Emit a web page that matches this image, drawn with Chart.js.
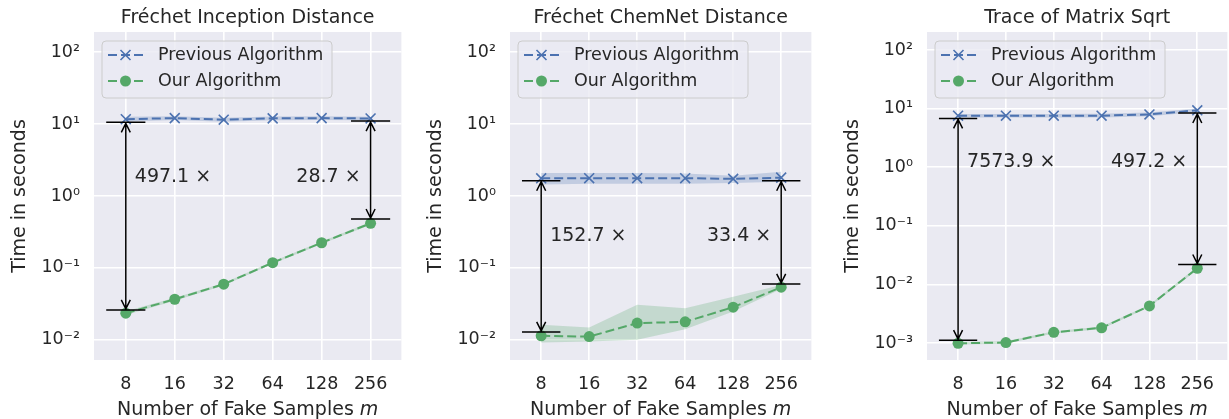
<!DOCTYPE html>
<html>
<head>
<meta charset="utf-8">
<script src="https://cdn.jsdelivr.net/npm/chart.js@4.4.0/dist/chart.umd.min.js"></script>
<style>
html, body { margin: 0; padding: 0; background: #fff; overflow: hidden; width: 1229px; height: 419px; }
.panel { position: absolute; top: 0; height: 419px; }
</style>
</head>
<body>
<div class="panel" style="left:0"><canvas id="c1" width="410" height="419"></canvas></div>
<div class="panel" style="left:410px"><canvas id="c2" width="410" height="419"></canvas></div>
<div class="panel" style="left:820px"><canvas id="c3" width="416" height="419"></canvas></div>
<script>
const samples = [8, 16, 32, 64, 128, 256];

// Fréchet Inception Distance
const fidPrev   = [11.7, 12.1, 11.5, 12.0, 12.1, 11.97];
const fidPrevLo = [10.9, 11.4, 10.8, 11.3, 11.4, 11.3];
const fidPrevHi = [12.6, 12.8, 12.2, 12.7, 12.8, 12.6];
const fidOurs   = [0.0235, 0.0367, 0.0594, 0.1185, 0.224, 0.417];
const fidOursLo = [0.0222, 0.0350, 0.0572, 0.1140, 0.215, 0.400];
const fidOursHi = [0.0249, 0.0385, 0.0617, 0.1230, 0.233, 0.435];

// Fréchet ChemNet Distance
const fcdPrev   = [1.76, 1.77, 1.77, 1.77, 1.73, 1.80];
const fcdPrevLo = [1.44, 1.48, 1.48, 1.48, 1.52, 1.58];
const fcdPrevHi = [2.09, 2.08, 2.08, 2.06, 1.91, 2.17];
const fcdOurs   = [0.0114, 0.0111, 0.0171, 0.0178, 0.0285, 0.054];
const fcdOursLo = [0.0092, 0.0095, 0.0100, 0.0141, 0.0247, 0.051];
const fcdOursHi = [0.0162, 0.0148, 0.0307, 0.0276, 0.0399, 0.058];

// Trace of Matrix Sqrt
const trPrev   = [7.6, 7.6, 7.6, 7.6, 7.99, 9.4];
const trPrevLo = [7.1, 7.1, 7.1, 7.1, 7.4, 8.8];
const trPrevHi = [8.1, 8.1, 8.1, 8.2, 8.6, 10.1];
const trOurs   = [0.00099, 0.00102, 0.00152, 0.00182, 0.0043, 0.0189];
const trOursLo = [0.00094, 0.00097, 0.00145, 0.00173, 0.0041, 0.0178];
const trOursHi = [0.00104, 0.00107, 0.00159, 0.00191, 0.0045, 0.0200];

const yTicksFid = [100, 10, 1, 0.1, 0.01];
const yTicksFcd = [100, 10, 1, 0.1, 0.01];
const yTicksTr  = [100, 10, 1, 0.1, 0.01, 0.001];

const seriesNames = ['Previous Algorithm', 'Our Algorithm'];

const FONT = 'DejaVu Sans';
const INK = '#262626';
const BLUE = '#4C72B0';
const GREEN = '#55A868';

function sup(v) {
    const e = Math.round(Math.log10(v));
    const map = {'0':'⁰','1':'¹','2':'²','3':'³','4':'⁴','-':'⁻'};
    return '10' + String(e).split('').map(c => map[c]).join('');
}

function drawMarker(ctx, style, x, y, color) {
    ctx.save();
    ctx.setLineDash([]);
    if (style === 'crossRot') {
        ctx.strokeStyle = color; ctx.lineWidth = 1.6;
        const d = 5;
        ctx.beginPath();
        ctx.moveTo(x - d, y - d); ctx.lineTo(x + d, y + d);
        ctx.moveTo(x - d, y + d); ctx.lineTo(x + d, y - d);
        ctx.stroke();
    } else {
        ctx.fillStyle = color;
        ctx.beginPath(); ctx.arc(x, y, 5.5, 0, Math.PI * 2); ctx.fill();
    }
    ctx.restore();
}

const decor = {
    id: 'decor',
    beforeDraw(chart) {
        const {ctx, chartArea: a} = chart;
        ctx.save();
        ctx.fillStyle = '#EAEAF2';
        ctx.fillRect(a.left, a.top, a.right - a.left, a.bottom - a.top);
        ctx.restore();
    },
    afterDraw(chart, args, o) {
        const {ctx, chartArea: a} = chart;
        const xs = chart.scales.x, ys = chart.scales.y;
        const cx = (a.left + a.right) / 2;
        ctx.save();
        ctx.fillStyle = INK;
        // title
        ctx.font = '19px "' + FONT + '"';
        ctx.textAlign = 'center'; ctx.textBaseline = 'alphabetic';
        ctx.fillText(o.title, cx, 23);
        // x label with italic m
        const t1 = 'Number of Fake Samples ', t2 = 'm';
        ctx.font = '19px "' + FONT + '"';
        const w1 = ctx.measureText(t1).width;
        ctx.font = 'italic 19px "' + FONT + '"';
        const w2 = ctx.measureText(t2).width;
        const sx = cx - (w1 + w2) / 2;
        ctx.textAlign = 'left';
        ctx.font = '19px "' + FONT + '"';
        ctx.fillText(t1, sx, 415);
        ctx.font = 'italic 19px "' + FONT + '"';
        ctx.fillText(t2, sx + w1, 415);

        // speed-up brackets
        const step = xs.getPixelForValue(16) - xs.getPixelForValue(8);
        const half = 0.4 * step;
        o.brackets.forEach(b => {
            const x = xs.getPixelForValue(b.m);
            const yt = ys.getPixelForValue(b.top), yb = ys.getPixelForValue(b.bottom);
            ctx.strokeStyle = '#000'; ctx.lineWidth = 1.5;
            ctx.beginPath();
            ctx.moveTo(x - half, yt); ctx.lineTo(x + half, yt);
            ctx.moveTo(x - half, yb); ctx.lineTo(x + half, yb);
            ctx.moveTo(x, yt + 1); ctx.lineTo(x, yb - 1);
            ctx.moveTo(x - 4.5, yt + 10); ctx.lineTo(x, yt + 1); ctx.lineTo(x + 4.5, yt + 10);
            ctx.moveTo(x - 4.5, yb - 10); ctx.lineTo(x, yb - 1); ctx.lineTo(x + 4.5, yb - 10);
            ctx.stroke();
            ctx.font = '19px "' + FONT + '"';
            ctx.textBaseline = 'middle';
            ctx.textAlign = b.side === 'right' ? 'left' : 'right';
            ctx.fillText(b.label, x + (b.side === 'right' ? 9 : -10), ys.getPixelForValue(b.textAt));
        });

        // legend
        const lx = a.left + 8, ly = a.top + 9, lw = 230, lh = 57;
        ctx.beginPath();
        ctx.roundRect(lx, ly, lw, lh, 4);
        ctx.fillStyle = 'rgba(234,234,242,0.8)';
        ctx.fill();
        ctx.strokeStyle = '#cccccc'; ctx.lineWidth = 1;
        ctx.stroke();
        const rows = [[BLUE, 'crossRot'], [GREEN, 'circle']];
        rows.forEach((r, i) => {
            const y = ly + 14 + i * 26;
            ctx.strokeStyle = r[0]; ctx.lineWidth = 2;
            ctx.setLineDash([9, 4]);
            ctx.beginPath(); ctx.moveTo(lx + 6, y); ctx.lineTo(lx + 41, y); ctx.stroke();
            ctx.setLineDash([]);
            drawMarker(ctx, r[1], lx + 23.5, y, r[0]);
            ctx.fillStyle = INK;
            ctx.font = '17.5px "' + FONT + '"';
            ctx.textAlign = 'left'; ctx.textBaseline = 'middle';
            ctx.fillText(seriesNames[i], lx + 56, y);
        });
        ctx.restore();
    }
};

function pts(vals) {
    return samples.map((m, i) => ({x: m, y: vals[i]}));
}

function makePanel(id, p) {
    const band = (vals, fillColor, fill) => ({
        data: pts(vals), borderWidth: 0, pointRadius: 0, tension: 0,
        fill: fill, backgroundColor: fillColor, order: 2
    });
    const line = (vals, color, style, order) => ({
        data: pts(vals), borderColor: color, backgroundColor: color, borderWidth: 2,
        borderDash: [9, 4], pointStyle: style, pointRadius: style === 'circle' ? 5.5 : 7,
        pointBorderWidth: style === 'circle' ? 0 : 1.6, pointBackgroundColor: color,
        pointBorderColor: color, tension: 0, fill: false, order: order
    });
    new Chart(document.getElementById(id), {
        type: 'line',
        data: {
            datasets: [
                band(p.prevLo, 'rgba(76,114,176,0.25)', false),
                band(p.prevHi, 'rgba(76,114,176,0.25)', '-1'),
                band(p.oursLo, 'rgba(85,168,104,0.25)', false),
                band(p.oursHi, 'rgba(85,168,104,0.25)', '-1'),
                line(p.prev, BLUE, 'crossRot', 1),
                line(p.ours, GREEN, 'circle', 0)
            ]
        },
        options: {
            responsive: false,
            animation: false,
            devicePixelRatio: 1,
            layout: { padding: { left: 0, right: p.padRight, top: 32, bottom: 0 } },
            plugins: {
                legend: { display: false },
                tooltip: { enabled: false },
                decor: { title: p.title, brackets: p.brackets }
            },
            scales: {
                x: {
                    type: 'logarithmic',
                    min: 5.1, max: 396,
                    afterBuildTicks: s => { s.ticks = samples.map(v => ({value: v})); },
                    afterFit: s => { s.height = 59; },
                    ticks: {
                        callback: v => String(v), autoSkip: false, maxRotation: 0,
                        color: INK, font: { family: FONT, size: 17.5 }, padding: 14
                    },
                    grid: { color: '#ffffff', lineWidth: 1.6, drawTicks: false },
                    border: { display: false }
                },
                y: {
                    type: 'logarithmic',
                    min: p.yMin, max: p.yMax,
                    afterBuildTicks: s => { s.ticks = p.yTicks.map(v => ({value: v})); },
                    afterFit: s => { s.width = p.leftW; },
                    ticks: {
                        callback: v => sup(v), autoSkip: false,
                        color: INK, font: { family: FONT, size: 17.5 }, padding: 14
                    },
                    grid: { color: '#ffffff', lineWidth: 1.6, drawTicks: false },
                    border: { display: false },
                    title: {
                        display: true, text: 'Time in seconds', color: INK,
                        font: { family: FONT, size: 19 },
                        padding: { top: p.leftW - 85, bottom: 0 }
                    }
                }
            }
        },
        plugins: [decor]
    });
}

makePanel('c1', {
    title: 'Fréchet Inception Distance',
    prev: fidPrev, prevLo: fidPrevLo, prevHi: fidPrevHi,
    ours: fidOurs, oursLo: fidOursLo, oursHi: fidOursHi,
    yTicks: yTicksFid, yMin: 0.00525, yMax: 190.5,
    leftW: 94, padRight: 7,
    brackets: [
        { m: 8, top: 10.56, bottom: 0.0261, label: '497.1 ×', side: 'right', textAt: 1.81 },
        { m: 256, top: 11.0, bottom: 0.479, label: '28.7 ×', side: 'left', textAt: 1.81 }
    ]
});

makePanel('c2', {
    title: 'Fréchet ChemNet Distance',
    prev: fcdPrev, prevLo: fcdPrevLo, prevHi: fcdPrevHi,
    ours: fcdOurs, oursLo: fcdOursLo, oursHi: fcdOursHi,
    yTicks: yTicksFcd, yMin: 0.00525, yMax: 190.5,
    leftW: 100, padRight: 2,
    brackets: [
        { m: 8, top: 1.63, bottom: 0.0129, label: '152.7 ×', side: 'right', textAt: 0.281 },
        { m: 256, top: 1.63, bottom: 0.060, label: '33.4 ×', side: 'left', textAt: 0.281 }
    ]
});

makePanel('c3', {
    title: 'Trace of Matrix Sqrt',
    prev: trPrev, prevLo: trPrevLo, prevHi: trPrevHi,
    ours: trOurs, oursLo: trOursLo, oursHi: trOursHi,
    yTicks: yTicksTr, yMin: 0.000513, yMax: 204,
    leftW: 107, padRight: 0,
    brackets: [
        { m: 8, top: 6.83, bottom: 0.00112, label: '7573.9 ×', side: 'right', textAt: 1.23 },
        { m: 256, top: 8.45, bottom: 0.0219, label: '497.2 ×', side: 'left', textAt: 1.23 }
    ]
});
</script>
</body>
</html>
